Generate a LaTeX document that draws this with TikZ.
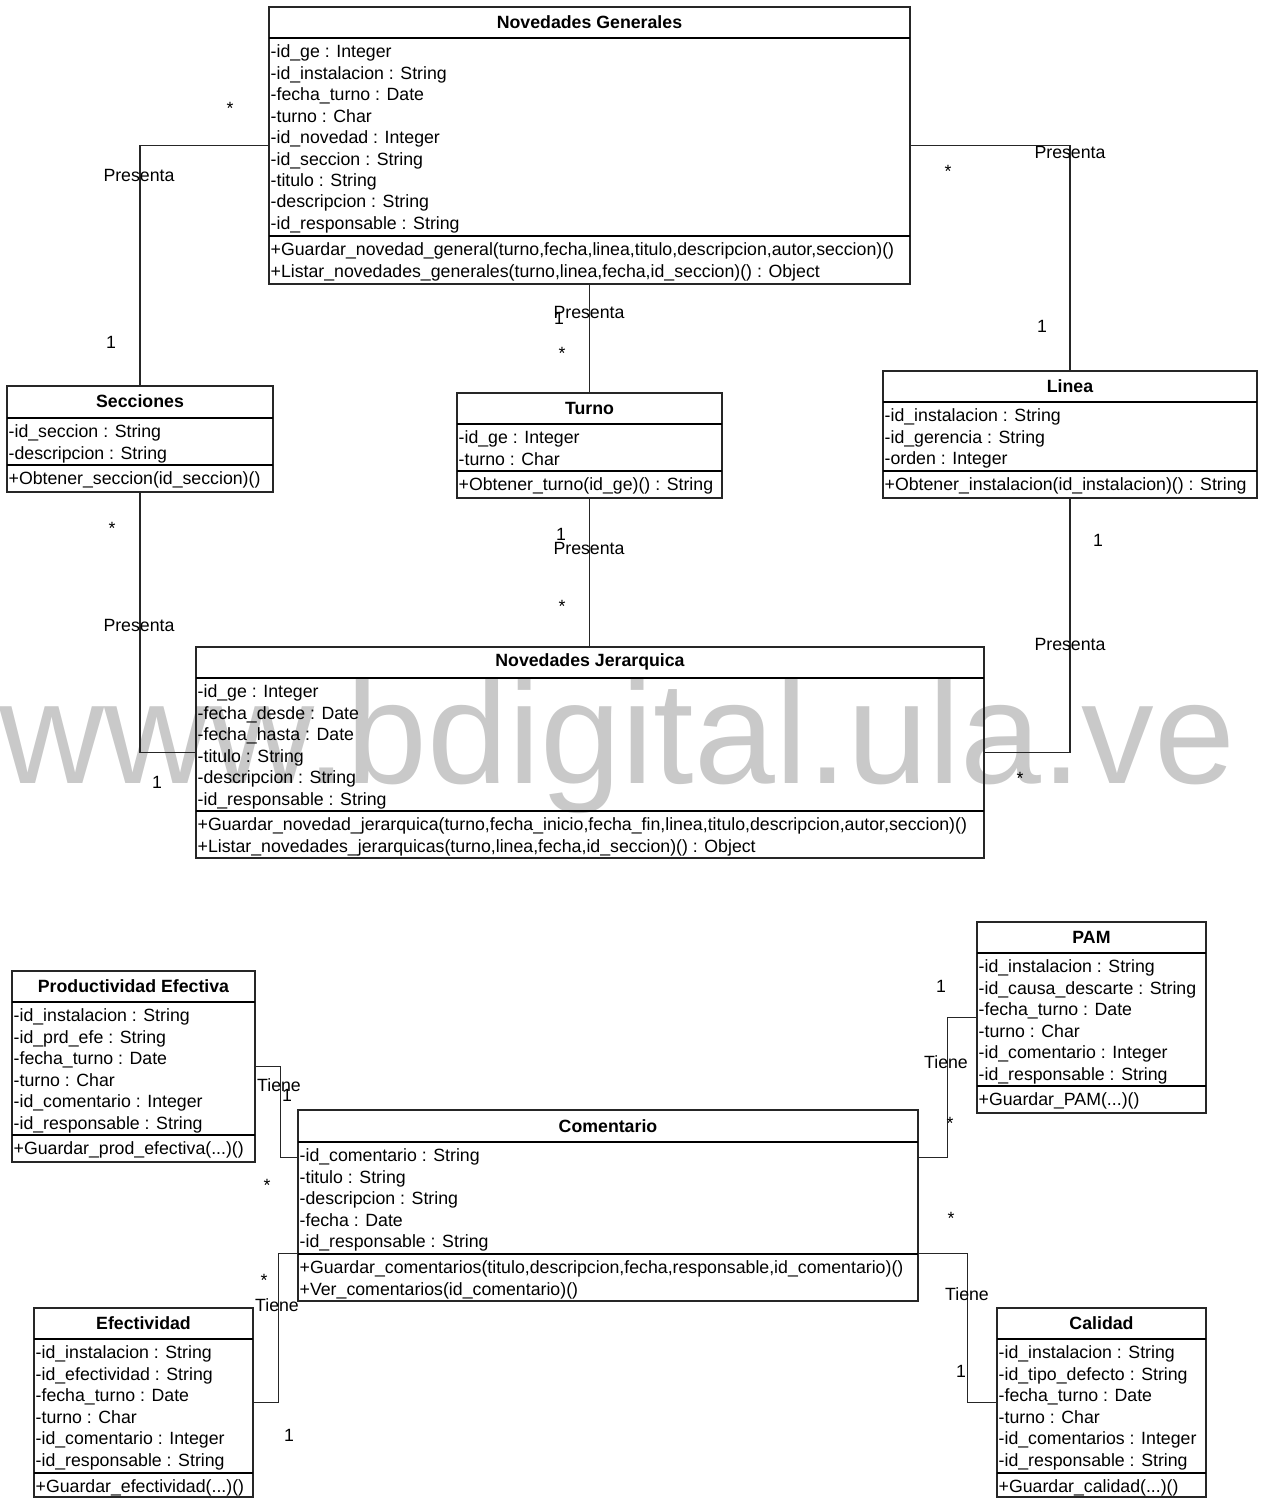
\documentclass[tikz,border=0pt]{standalone}
\usepackage{fontspec}
\setmainfont{Liberation Sans}
\usetikzlibrary{fit,calc}

\newcommand\membfont{\fontsize{13.3}{16.1}\selectfont}

\tikzset{every picture/.style={line width=1pt}}
\tikzset{
  classbox/.style={draw=black!85, inner sep=0pt},
  ctitle/.style={inner sep=0pt, font=\membfont\bfseries},
  member/.style={anchor=north west, inner sep=0pt, align=left, font=\membfont},
  lbl/.style={inner sep=0pt, font=\membfont},
  assoc/.style={draw=black!85},
  watermark/.style={inner sep=0pt, anchor=base west, text=black!21, font=\fontsize{109}{109}\selectfont},
}

\begin{document}
\begin{tikzpicture}[x=0.75pt,y=0.75pt,yscale=-1,xscale=1]
\useasboundingbox (0,0) rectangle (1260,1499);
% site stamp behind everything
\node[watermark] (wm) at (-1,783) {www.bdigital.ula.ve};

%Class: Novedades Generales
\node[classbox, fit={(269,7) (910,284)}] (ng) {};
\draw (269,38) -- (910,38);
\draw (269,236) -- (910,236);
\node[ctitle] (ng-t) at (589.5,22) {Novedades Generales};
\node[member] (ng-a) at (270,42) {\strut-id\_ge : Integer\\-id\_instalacion : String\\-fecha\_turno : Date\\-turno : Char\\-id\_novedad : Integer\\-id\_seccion : String\\-titulo : String\\-descripcion : String\\-id\_responsable : String};
\node[member] (ng-o) at (270,240) {\strut+Guardar\_novedad\_general(turno,fecha,linea,titulo,descripcion,autor,seccion)()\\+Listar\_novedades\_generales(turno,linea,fecha,id\_seccion)() : Object};

%Class: Secciones
\node[classbox, fit={(7,386) (273,492)}] (sec) {};
\draw (7,418) -- (273,418);
\draw (7,465) -- (273,465);
\node[ctitle] (sec-t) at (140,401) {Secciones};
\node[member] (sec-a) at (8,422) {\strut-id\_seccion : String\\-descripcion : String};
\node[member] (sec-o) at (8,469) {\strut+Obtener\_seccion(id\_seccion)()};

%Class: Turno
\node[classbox, fit={(457,393) (722,498)}] (tur) {};
\draw (457,424) -- (722,424);
\draw (457,471) -- (722,471);
\node[ctitle] (tur-t) at (589.5,408) {Turno};
\node[member] (tur-a) at (458,428) {\strut-id\_ge : Integer\\-turno : Char};
\node[member] (tur-o) at (458,475) {\strut+Obtener\_turno(id\_ge)() : String};

%Class: Linea
\node[classbox, fit={(883,371) (1257,498)}] (lin) {};
\draw (883,402) -- (1257,402);
\draw (883,471) -- (1257,471);
\node[ctitle] (lin-t) at (1070,386) {Linea};
\node[member] (lin-a) at (884,406) {\strut-id\_instalacion : String\\-id\_gerencia : String\\-orden : Integer};
\node[member] (lin-o) at (884,475) {\strut+Obtener\_instalacion(id\_instalacion)() : String};

%Class: Novedades Jerarquica
\node[classbox, fit={(196,647) (984,858)}] (nj) {};
\draw (196,678) -- (984,678);
\draw (196,811) -- (984,811);
\node[ctitle] (nj-t) at (590,662) {Novedades Jerarquica};
\node[member] (nj-a) at (197,682) {\strut-id\_ge : Integer\\-fecha\_desde : Date\\-fecha\_hasta : Date\\-titulo : String\\-descripcion : String\\-id\_responsable : String};
\node[member] (nj-o) at (197,815) {\strut+Guardar\_novedad\_jerarquica(turno,fecha\_inicio,fecha\_fin,linea,titulo,descripcion,autor,seccion)()\\+Listar\_novedades\_jerarquicas(turno,linea,fecha,id\_seccion)() : Object};

%Class: Productividad Efectiva
\node[classbox, fit={(12,971) (255,1162)}] (pe) {};
\draw (12,1002) -- (255,1002);
\draw (12,1135) -- (255,1135);
\node[ctitle] (pe-t) at (133.5,986) {Productividad Efectiva};
\node[member] (pe-a) at (13,1006) {\strut-id\_instalacion : String\\-id\_prd\_efe : String\\-fecha\_turno : Date\\-turno : Char\\-id\_comentario : Integer\\-id\_responsable : String};
\node[member] (pe-o) at (13,1139) {\strut+Guardar\_prod\_efectiva(...)()};

%Class: PAM
\node[classbox, fit={(977,922) (1206,1113)}] (pam) {};
\draw (977,953) -- (1206,953);
\draw (977,1086) -- (1206,1086);
\node[ctitle] (pam-t) at (1091.5,937) {PAM};
\node[member] (pam-a) at (978,957) {\strut-id\_instalacion : String\\-id\_causa\_descarte : String\\-fecha\_turno : Date\\-turno : Char\\-id\_comentario : Integer\\-id\_responsable : String};
\node[member] (pam-o) at (978,1090) {\strut+Guardar\_PAM(...)()};

%Class: Comentario
\node[classbox, fit={(298,1110) (918,1301)}] (com) {};
\draw (298,1142) -- (918,1142);
\draw (298,1254) -- (918,1254);
\node[ctitle] (com-t) at (608,1126) {Comentario};
\node[member] (com-a) at (299,1146) {\strut-id\_comentario : String\\-titulo : String\\-descripcion : String\\-fecha : Date\\-id\_responsable : String};
\node[member] (com-o) at (299,1258) {\strut+Guardar\_comentarios(titulo,descripcion,fecha,responsable,id\_comentario)()\\+Ver\_comentarios(id\_comentario)()};
\coordinate (com-w1) at ($(com.north west)!.25!(com.south west)$);
\coordinate (com-w2) at ($(com.north west)!.75!(com.south west)$);
\coordinate (com-e1) at ($(com.north east)!.25!(com.south east)$);
\coordinate (com-e2) at ($(com.north east)!.75!(com.south east)$);

%Class: Efectividad
\node[classbox, fit={(34,1308) (253,1497)}] (efe) {};
\draw (34,1339) -- (253,1339);
\draw (34,1473) -- (253,1473);
\node[ctitle] (efe-t) at (143.5,1323) {Efectividad};
\node[member] (efe-a) at (35,1343) {\strut-id\_instalacion : String\\-id\_efectividad : String\\-fecha\_turno : Date\\-turno : Char\\-id\_comentario : Integer\\-id\_responsable : String};
\node[member] (efe-o) at (35,1477) {\strut+Guardar\_efectividad(...)()};

%Class: Calidad
\node[classbox, fit={(997,1308) (1206,1497)}] (cal) {};
\draw (997,1339) -- (1206,1339);
\draw (997,1473) -- (1206,1473);
\node[ctitle] (cal-t) at (1101.5,1323) {Calidad};
\node[member] (cal-a) at (998,1343) {\strut-id\_instalacion : String\\-id\_tipo\_defecto : String\\-fecha\_turno : Date\\-turno : Char\\-id\_comentarios : Integer\\-id\_responsable : String};
\node[member] (cal-o) at (998,1477) {\strut+Guardar\_calidad(...)()};

%Associations: Presenta
\draw[assoc] (ng.west) -| (sec.north);
\draw[assoc] (ng.east) -| (lin.north);
\draw[assoc] (ng.south) -- (tur.north);
\draw[assoc] (tur.south) -- (tur.south |- nj.north);
\draw[assoc] (sec.south) |- (nj.west);
\draw[assoc] (lin.south) |- (nj.east);

%Associations: Tiene
\draw[assoc] (pe.east) -- ++(25,0) |- (com-w1);
\draw[assoc] (efe.east) -- ++(25,0) |- (com-w2);
\draw[assoc] (com-e1) -- ++(29,0) |- (pam.west);
\draw[assoc] (com-e2) -- ++(49,0) |- (cal.west);

% Text Node: association names and multiplicities
\node[lbl] (m1) at (230,108) {*};
\node[lbl] (p1) at (139,175) {Presenta};
\node[lbl] (m2) at (111,342) {1};
\node[lbl] (m3) at (948,171) {*};
\node[lbl] (p2) at (1070,152) {Presenta};
\node[lbl] (m4) at (1042,326) {1};
\node[lbl] (m5) at (559,318) {1};
\node[lbl] (p3) at (589,312) {Presenta};
\node[lbl] (m6) at (562,353) {*};
\node[lbl] (m7) at (561,534) {1};
\node[lbl] (p4) at (589,548) {Presenta};
\node[lbl] (m8) at (562,606) {*};
\node[lbl] (m9) at (112,528) {*};
\node[lbl] (p5) at (139,625) {Presenta};
\node[lbl] (m10) at (157,782) {1};
\node[lbl] (m11) at (1098,540) {1};
\node[lbl] (p6) at (1070,644) {Presenta};
\node[lbl] (m12) at (1020,778) {*};
\node[lbl] (t1) at (279,1085) {Tiene};
\node[lbl] (m13) at (287,1095) {1};
\node[lbl] (m14) at (267,1185) {*};
\node[lbl] (m15) at (264,1280) {*};
\node[lbl] (t2) at (277,1305) {Tiene};
\node[lbl] (m16) at (289,1435) {1};
\node[lbl] (m17) at (941,986) {1};
\node[lbl] (t3) at (946,1062) {Tiene};
\node[lbl] (m18) at (950,1123) {*};
\node[lbl] (m19) at (951,1218) {*};
\node[lbl] (t4) at (967,1294) {Tiene};
\node[lbl] (m20) at (961,1371) {1};
\end{tikzpicture}
\end{document}
